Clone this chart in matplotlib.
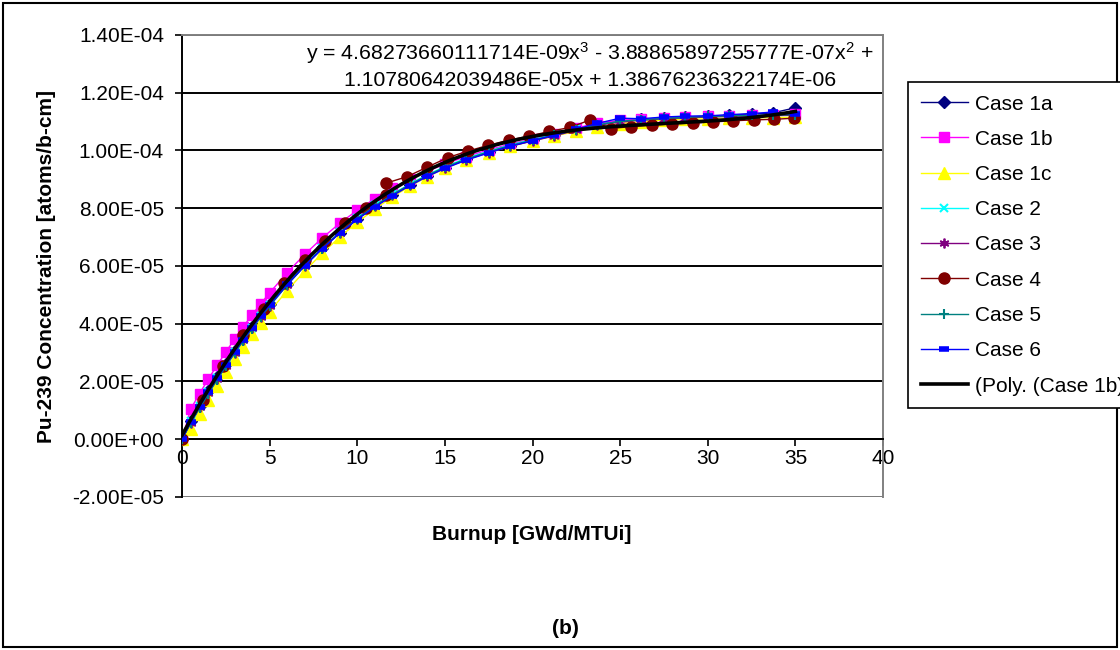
import numpy as np
import matplotlib
matplotlib.use('Agg')
import matplotlib.pyplot as plt
from matplotlib.ticker import FuncFormatter, MultipleLocator
from matplotlib.patches import Rectangle

plt.rcParams['font.family'] = ['Liberation Sans', 'DejaVu Sans']
plt.rcParams['mathtext.fontset'] = 'custom'
plt.rcParams['mathtext.rm'] = 'Liberation Sans'
plt.rcParams['mathtext.it'] = 'Liberation Sans'

# Burnup steps (GWd/MTUi)
burnup = [0, 0.5, 1, 1.5, 2, 2.5, 3, 3.5, 4, 4.5, 5, 6, 7, 8, 9, 10, 11, 12, 13, 14, 15,
          16.2, 17.5, 18.7, 20, 21.2, 22.5, 23.7, 25, 26.2, 27.5, 28.7, 30, 31.2, 32.5, 33.7, 35]
burnup_case4 = [0, 1.17, 2.33, 3.5, 4.66, 5.83, 7.0, 8.16, 9.32, 10.49, 11.65, 11.65, 12.82,
                13.98, 15.15, 16.31, 17.48, 18.64, 19.81, 20.97, 22.14, 23.3, 24.47, 25.63,
                26.8, 27.96, 29.13, 30.29, 31.46, 32.62, 33.79, 34.95]

# Pu-239 concentration, in units of 1E-05 atoms/b-cm
case_1a = [0, 0.64, 1.16, 1.66, 2.14, 2.60, 3.05, 3.48, 3.89, 4.29, 4.67, 5.38, 6.03, 6.62, 7.16,
           7.64, 8.07, 8.46, 8.81, 9.13, 9.41, 9.69, 9.95, 10.16, 10.35, 10.53, 10.73, 10.91,
           11.03, 11.08, 11.13, 11.16, 11.19, 11.22, 11.26, 11.30, 11.48]
case_1b = [0, 1.05, 1.58, 2.08, 2.56, 3.02, 3.47, 3.90, 4.31, 4.70, 5.07, 5.77, 6.40, 6.97, 7.48,
           7.93, 8.33, 8.69, 9.00, 9.28, 9.53, 9.79, 10.02, 10.22, 10.40, 10.58, 10.78, 10.95,
           11.05, 11.08, 11.12, 11.15, 11.18, 11.20, 11.22, 11.24, 11.26]
case_1c = [0, 0.35, 0.86, 1.36, 1.85, 2.32, 2.77, 3.21, 3.63, 4.03, 4.42, 5.15, 5.82, 6.44, 7.00,
           7.51, 7.97, 8.39, 8.76, 9.09, 9.38, 9.68, 9.93, 10.14, 10.33, 10.50, 10.66, 10.82,
           10.93, 11.00, 11.05, 11.08, 11.10, 11.12, 11.13, 11.14, 11.15]
case_2 = [0, 0.62, 1.14, 1.64, 2.12, 2.58, 3.03, 3.46, 3.87, 4.27, 4.65, 5.37, 6.03, 6.63, 7.17,
          7.66, 8.10, 8.49, 8.84, 9.16, 9.44, 9.73, 9.98, 10.19, 10.38, 10.55, 10.74, 10.90,
          11.00, 11.06, 11.10, 11.14, 11.17, 11.19, 11.21, 11.22, 11.23]
case_3 = [0, 0.58, 1.10, 1.60, 2.08, 2.55, 3.00, 3.43, 3.85, 4.25, 4.63, 5.35, 6.01, 6.61, 7.15,
          7.64, 8.07, 8.46, 8.81, 9.12, 9.40, 9.68, 9.93, 10.14, 10.33, 10.50, 10.70, 10.87,
          10.99, 11.05, 11.10, 11.13, 11.16, 11.18, 11.20, 11.21, 11.22]
case_4 = [0, 1.35, 2.55, 3.62, 4.52, 5.42, 6.20, 6.86, 7.48, 8.00, 8.46, 8.87, 9.09, 9.42, 9.75,
          9.98, 10.18, 10.36, 10.50, 10.66, 10.80, 11.06, 10.76, 10.83, 10.88, 10.92, 10.95,
          10.99, 11.03, 11.06, 11.08, 11.12]
case_5 = [0, 0.55, 1.07, 1.57, 2.05, 2.52, 2.97, 3.41, 3.83, 4.23, 4.61, 5.34, 6.00, 6.60, 7.15,
          7.64, 8.08, 8.47, 8.82, 9.14, 9.42, 9.70, 9.96, 10.17, 10.36, 10.53, 10.72, 10.89,
          11.01, 11.07, 11.11, 11.15, 11.18, 11.20, 11.22, 11.23, 11.24]
case_6 = [0, 0.60, 1.13, 1.63, 2.11, 2.57, 3.02, 3.45, 3.87, 4.27, 4.65, 5.36, 6.01, 6.60, 7.13,
          7.61, 8.04, 8.43, 8.78, 9.10, 9.38, 9.66, 9.92, 10.14, 10.34, 10.52, 10.74, 10.94,
          11.12, 11.10, 11.16, 11.19, 11.20, 11.24, 11.28, 11.33, 11.25]

# cubic trendline of Case 1b (Excel)
poly_coef = [4.68273660111714E-09, -3.88865897255777E-07, 1.10780642039486E-05, 1.38676236322174E-06]

fig = plt.figure(figsize=(11.2, 6.5), dpi=100)
ax = fig.add_axes([182 / 1120, 1 - 497 / 650, 701 / 1120, 462 / 650])

series = [
    ('Case 1a', burnup, case_1a, '#000080', 'D', 6.5, 1),
    ('Case 1b', burnup, case_1b, '#FF00FF', 's', 7, 1),
    ('Case 1c', burnup, case_1c, '#FFFF00', '^', 8, 1),
    ('Case 2', burnup, case_2, '#00FFFF', 'x', 6, 1.5),
    ('Case 3', burnup, case_3, '#800080', (6, 2, 0), 7, 1.3),
    ('Case 4', burnup_case4, case_4, '#800000', 'o', 8, 1),
    ('Case 5', burnup, case_5, '#008080', '+', 7, 1.5),
    ('Case 6', burnup, case_6, '#0000FF', '_', 7, 4),
]
for name, x, y, col, mk, ms, mew in series:
    ax.plot(x, np.array(y) * 1e-5, color=col, lw=1, marker=mk, ms=ms, mew=mew,
            mec=col, mfc=col, label=name, zorder=3)

xf = np.linspace(0, 35, 200)
ax.plot(xf, np.polyval(poly_coef, xf), color='black', lw=2.6, label='(Poly. (Case 1b)', zorder=4)

ax.set_xlim(0, 40)
ax.set_ylim(-2e-5, 1.4e-4)
ax.xaxis.set_major_locator(MultipleLocator(5))
ax.yaxis.set_major_locator(MultipleLocator(2e-5))
ax.yaxis.set_major_formatter(FuncFormatter(lambda v, p: f'{v:.2E}'))
ax.yaxis.grid(True, color='black', lw=1.4)
ax.set_axisbelow(True)

ax.spines['bottom'].set_position(('data', 0))
for s in ['left', 'bottom']:
    ax.spines[s].set_color('black')
    ax.spines[s].set_linewidth(1.4)
for s in ['top', 'right']:
    ax.spines[s].set_color('#808080')
    ax.spines[s].set_linewidth(1.4)
ax.axhline(-2e-5, color='#808080', lw=1.4, zorder=1)

ax.tick_params(axis='y', direction='out', length=5, width=1.2, labelsize=15, pad=8)
ax.tick_params(axis='x', direction='out', length=5, width=1.2, labelsize=15, pad=2)

fig.text(590 / 1120, 1 - 53 / 650,
         r'y = 4.68273660111714E-09x$^3$ - 3.88865897255777E-07x$^2$ +',
         ha='center', va='center', fontsize=15.3)
fig.text(590 / 1120, 1 - 80 / 650, '1.10780642039486E-05x + 1.38676236322174E-06',
         ha='center', va='center', fontsize=15.3)

fig.text(532 / 1120, 1 - 534 / 650, 'Burnup [GWd/MTUi]', ha='center', va='center',
         fontsize=15, fontweight='bold')
fig.text(47 / 1120, 1 - 266 / 650, 'Pu-239 Concentration [atoms/b-cm]', ha='center',
         va='center', rotation=90, fontsize=15, fontweight='bold')
fig.text(565 / 1120, 1 - 628 / 650, '(b)', ha='center', va='center', fontsize=15,
         fontweight='bold')

leg = fig.legend(loc='upper left', bbox_to_anchor=(908 / 1120, 1 - 82 / 650),
                 bbox_transform=fig.transFigure, fancybox=False, edgecolor='black',
                 framealpha=1, fontsize=15, handlelength=2.3, handletextpad=0.3,
                 labelspacing=0.78, borderpad=0.6, borderaxespad=0)
leg.get_frame().set_linewidth(1.2)

fig.patches.append(Rectangle((3 / 1120, 3 / 650), 1114 / 1120, 644 / 650,
                             transform=fig.transFigure, fill=False, ec='black', lw=1.5))

fig.savefig('out.png', dpi=100)
